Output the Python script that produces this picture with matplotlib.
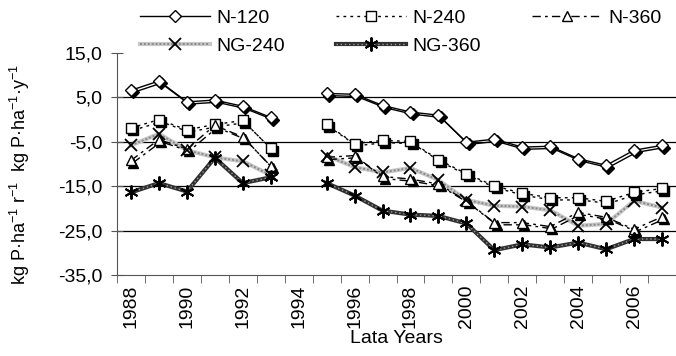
import numpy as np
import matplotlib.pyplot as plt
import matplotlib.lines as mlines
from matplotlib.transforms import offset_copy

plt.rcParams['font.family'] = ['Liberation Sans', 'DejaVu Sans']
plt.rcParams['mathtext.fontset'] = 'custom'
plt.rcParams['mathtext.rm'] = 'Liberation Sans'
plt.rcParams['mathtext.it'] = 'Liberation Sans'
plt.rcParams['font.size'] = 14

nan = np.nan
years = list(range(1988, 2008))
n120 = [6.6, 8.7, 4.0, 4.4, 3.0, 0.5, nan, 5.9, 5.7, 3.2, 1.7, 1.0, -5.1, -4.4, -6.2, -6.0, -8.8, -10.3, -6.9, -5.8]
n240 = [-1.9, 0.0, -2.3, -1.1, -0.2, -6.5, nan, -1.1, -5.4, -4.7, -4.9, -9.0, -12.2, -14.9, -16.6, -17.6, -17.6, -18.4, -16.4, -15.5]
n360 = [-9.2, -4.5, -6.6, -1.3, -3.9, -10.5, nan, -8.5, -8.1, -12.8, -13.4, -14.5, -18.3, -23.2, -23.2, -24.1, -20.9, -22.0, -24.7, -21.9]
ng240 = [-5.8, -3.2, -6.9, -8.5, -9.4, -12.5, nan, -8.1, -10.7, -11.9, -10.9, -13.6, -18.1, -19.4, -19.6, -20.4, -23.9, -23.5, -18.3, -19.8]
ng360 = [-16.4, -14.3, -16.2, -8.6, -14.3, -13.0, nan, -14.3, -17.1, -20.5, -21.4, -21.7, -23.4, -29.4, -28.1, -28.8, -27.7, -29.2, -26.9, -26.9]

year_labels = [str(y) for y in range(1988, 2008, 2)]
y_ticks = [-35, -25, -15, -5, 5, 15]

fig = plt.figure(figsize=(6.76, 3.56), dpi=100)
ax = fig.add_axes([117 / 676, 1 - 275 / 356, 1 - 117 / 676, 222 / 356])

# gridlines
for v in [5, -5, -15, -25]:
    ax.axhline(v, color='black', lw=0.9, zorder=1)

shadow = offset_copy(ax.transData, fig=fig, x=2.2, y=-2.2, units='dots')


def series(vals, ls, marker, ms, label):
    ax.plot(years, vals, ls=ls, color='black', lw=1, marker=marker, ms=ms,
            mfc='black', mec='black', transform=shadow, zorder=2)
    return ax.plot(years, vals, ls=ls, color='black', lw=1, marker=marker, ms=ms,
                   mfc='white', mec='black', mew=1, label=label, zorder=3)[0]


# NG lines (patterned grey)
ax.plot(years, ng240, color='#c8c8c8', lw=3, zorder=2)
ax.plot(years, ng240, color='#8a8a8a', lw=1.4, ls=(0, (1, 1)), zorder=2)
ax.plot(years, ng240, ls='none', marker='x', ms=9, mew=1.3, color='black', zorder=4)
ax.plot(years, ng360, color='#303030', lw=3, zorder=2)
ax.plot(years, ng360, color='#9a9a9a', lw=1.0, ls=(0, (1, 2)), zorder=2)
ax.plot(years, ng360, ls='none', marker=(6, 2, 0), ms=10, mew=1.4, color='black', zorder=4)

h_n120 = series(n120, '-', 'D', 6, 'N-120')
h_n240 = series(n240, (0, (2, 3)), 's', 6.5, 'N-240')
h_n360 = series(n360, (0, (6, 3, 2, 3)), '^', 7, 'N-360')

# legend handles
lg_ng240 = (mlines.Line2D([], [], color='#c8c8c8', lw=3),
            mlines.Line2D([], [], color='#8a8a8a', lw=1.4, ls=(0, (1, 1))),
            mlines.Line2D([], [], ls='none', marker='x', ms=9, mew=1.3, color='black'))
lg_ng360 = (mlines.Line2D([], [], color='#303030', lw=3),
            mlines.Line2D([], [], color='#9a9a9a', lw=1.0, ls=(0, (1, 2))),
            mlines.Line2D([], [], ls='none', marker=(6, 2, 0), ms=10, mew=1.4, color='black'))

fig.legend([h_n120, lg_ng240, h_n240, lg_ng360, h_n360],
           ['N-120', 'NG-240', 'N-240', 'NG-360', 'N-360'],
           ncol=3, loc='upper left', bbox_to_anchor=(140 / 676, 1 - 9 / 356),
           frameon=False, borderpad=0, borderaxespad=0, handlelength=3.6,
           handletextpad=0.35, columnspacing=2.6, labelspacing=0.55)

ax.set_xlim(1987.5, 2007.5)
ax.set_ylim(-35, 15)
ax.set_xticks(range(1988, 2008, 2))
ax.set_xticklabels(year_labels, rotation=90)
ax.set_xticks(np.arange(1987.5, 2008, 1), minor=True)
ax.tick_params(axis='x', which='major', length=0, pad=7)
ax.tick_params(axis='x', which='minor', length=6, direction='out', color='#555555')
ax.set_yticks(y_ticks)
ax.set_yticklabels([f'{v:.1f}'.replace('.', ',') for v in y_ticks])
ax.tick_params(axis='y', direction='inout', length=9, color='#555555', pad=6)

for s in ['top', 'right']:
    ax.spines[s].set_visible(False)
for s in ['left', 'bottom']:
    ax.spines[s].set_color('#555555')

ax.set_xlabel('Lata Years', labelpad=1)
fig.text(0.03, 0.51, 'kg P·ha$^{-1}$ r$^{-1}$  kg P·ha$^{-1}$·y$^{-1}$',
         rotation=90, ha='center', va='center', fontsize=13)

fig.savefig('out.png', dpi=100)
